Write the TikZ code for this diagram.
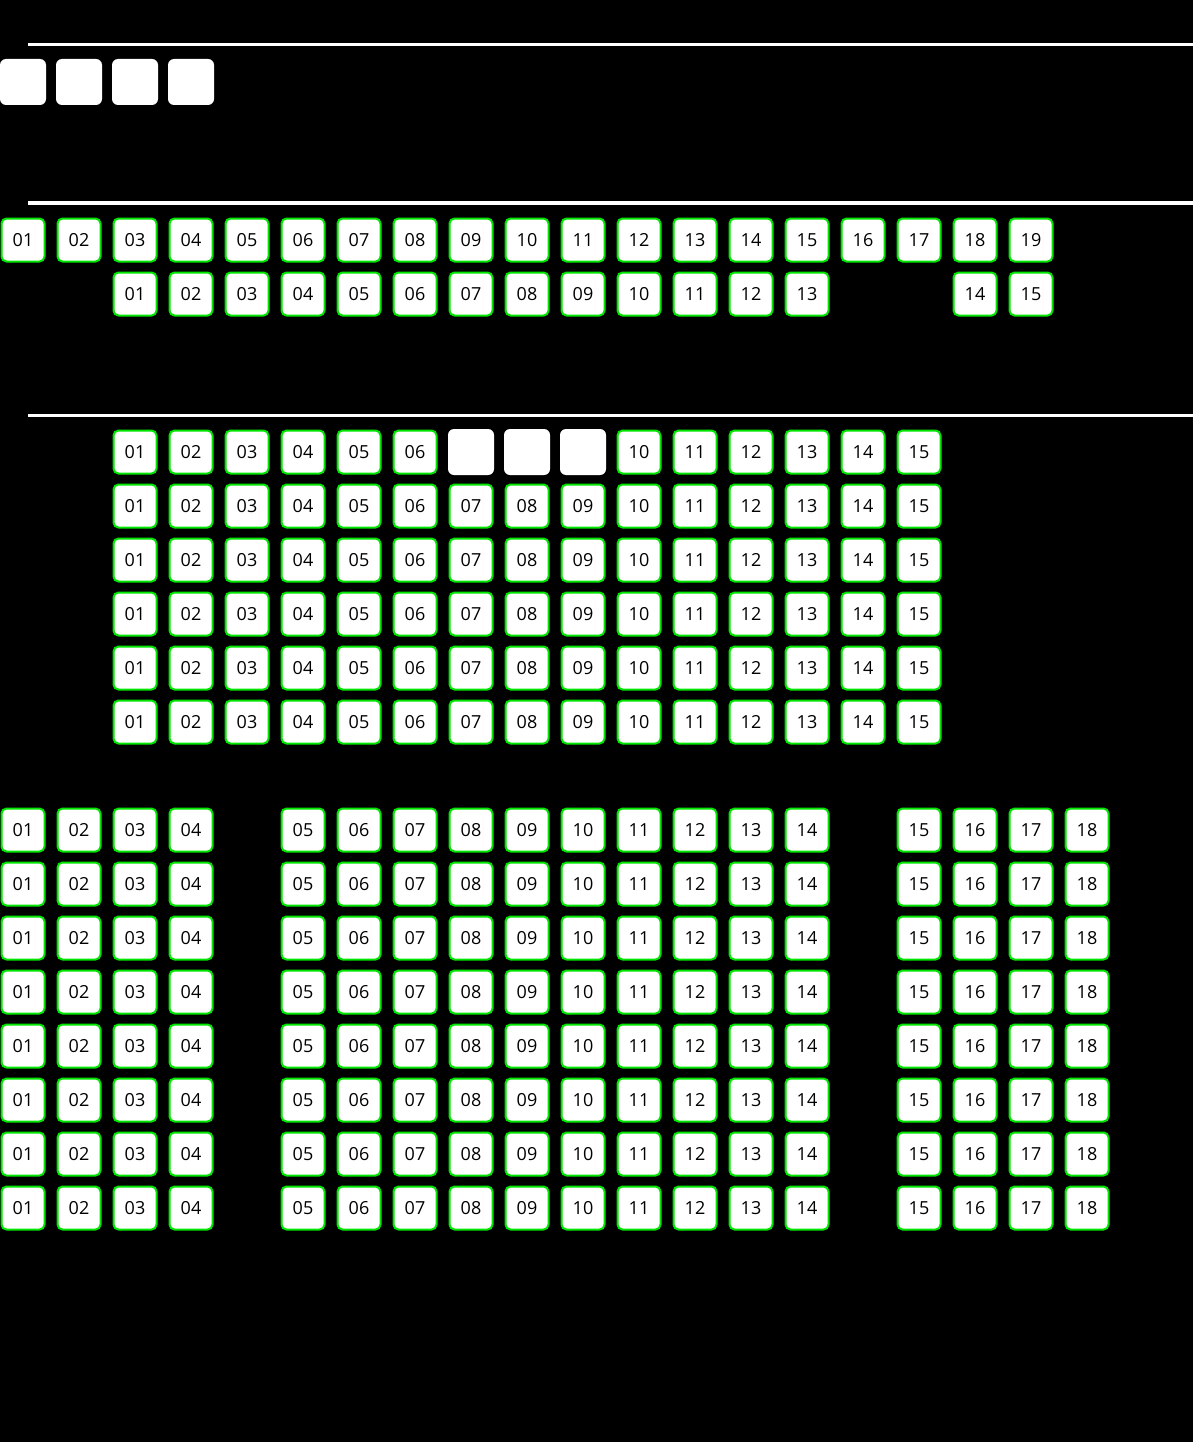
\documentclass[tikz,border=0pt]{standalone}
\usepackage{fontspec}
\setmainfont{Open Sans}
\definecolor{seatgreen}{RGB}{0,230,0}
\begin{document}
\begin{tikzpicture}[x=1pt,y=-1pt,
  seat/.style={draw=seatgreen,line width=2pt,fill=white,rounded corners=5pt,minimum size=43pt,inner sep=0pt,font=\fontsize{18}{18}\selectfont,text=black},
  blank/.style={fill=white,rounded corners=6pt,minimum size=46pt,inner sep=0pt},
  sep/.style={draw=white,line width=3pt}]
\fill[black] (0,0) rectangle (1193,1442);
\useasboundingbox (0,0) rectangle (1193,1442);
% separator lines
\coordinate (l1a) at (28,45); \coordinate (l1b) at (1193,45);
\coordinate (l2a) at (28,203); \coordinate (l2b) at (1193,203);
\coordinate (l3a) at (28,415); \coordinate (l3b) at (1193,415);
\draw[sep] (l1a) -- (l1b);
\draw[sep] (l2a) -- (l2b);
\draw[sep] (l3a) -- (l3b);
% top blank squares
\foreach \c in {0,...,3} \node[blank] (t\c) at (23+56*\c,82) {};
% row A
\foreach \i [evaluate=\i as \lab using {int(\i)}] in {1,...,19} {
  \pgfmathsetmacro{\xx}{23+56*(\i-1)}
  \node[seat] (a\i) at (\xx,240) {\ifnum\i<10 0\fi\i};
}
% row B
\foreach \i in {1,...,13} {
  \pgfmathsetmacro{\xx}{23+56*(\i+1)}
  \node[seat] (b\i) at (\xx,294) {\ifnum\i<10 0\fi\i};
}
\node[seat] (b14) at (975,294) {14};
\node[seat] (b15) at (1031,294) {15};
% section 3
\foreach \r in {0,...,5} {
  \pgfmathsetmacro{\yy}{452+54*\r}
  \foreach \i in {1,...,15} {
    \pgfmathsetmacro{\xx}{23+56*(\i+1)}
    \ifnum\r=0
      \ifnum\i>6 \ifnum\i<10
        \node[blank] (c\r-\i) at (\xx,\yy) {};
      \else
        \node[seat] (c\r-\i) at (\xx,\yy) {\ifnum\i<10 0\fi\i};
      \fi
      \else
        \node[seat] (c\r-\i) at (\xx,\yy) {\ifnum\i<10 0\fi\i};
      \fi
    \else
      \node[seat] (c\r-\i) at (\xx,\yy) {\ifnum\i<10 0\fi\i};
    \fi
  }
}
% section 4
\foreach \r in {0,...,7} {
  \pgfmathsetmacro{\yy}{830+54*\r}
  \foreach \i in {1,...,18} {
    \pgfmathsetmacro{\cc}{\i<5 ? \i-1 : (\i<15 ? \i : \i+1)}
    \pgfmathsetmacro{\xx}{23+56*\cc}
    \node[seat] (d\r-\i) at (\xx,\yy) {\ifnum\i<10 0\fi\i};
  }
}
\end{tikzpicture}
\end{document}
